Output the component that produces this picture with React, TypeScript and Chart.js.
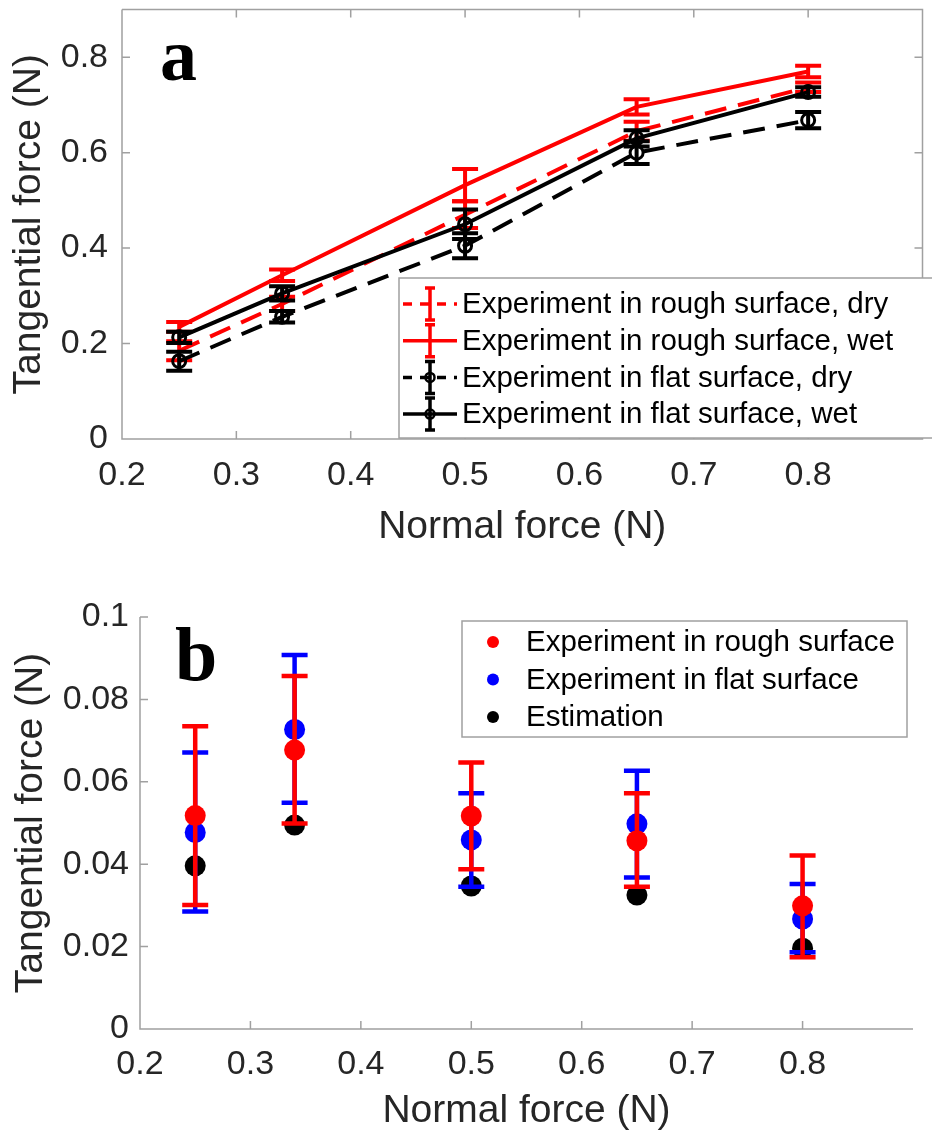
import React, { useEffect, useRef } from "react";
import { Chart, registerables } from "chart.js";

Chart.register(...registerables);

// ---------- data ----------
const normalForce = [0.25, 0.34, 0.5, 0.65, 0.8];
const xTickValues = [0.2, 0.3, 0.4, 0.5, 0.6, 0.7, 0.8];
const yTickValuesA = [0, 0.2, 0.4, 0.6, 0.8];
const yTickValuesB = [0, 0.02, 0.04, 0.06, 0.08, 0.1];

// panel a
const roughDry = [0.185, 0.283, 0.47, 0.645, 0.737];
const roughDryErr = [0.02, 0.015, 0.028, 0.02, 0.01];
const roughWet = [0.235, 0.343, 0.532, 0.696, 0.77];
const roughWetErr = [0.01, 0.012, 0.034, 0.016, 0.012];
const flatDry = [0.163, 0.256, 0.405, 0.6, 0.668];
const flatDryErr = [0.02, 0.012, 0.026, 0.024, 0.017];
const flatWet = [0.213, 0.305, 0.45, 0.63, 0.727];
const flatWetErr = [0.012, 0.015, 0.031, 0.017, 0.01];

// panel b
const roughB = [0.0518, 0.0677, 0.0517, 0.0457, 0.0299];
const roughBLow = [0.0301, 0.0499, 0.0388, 0.0345, 0.0174];
const roughBHigh = [0.0735, 0.0857, 0.0647, 0.0572, 0.0421];
const flatB = [0.0477, 0.0727, 0.0459, 0.0498, 0.0267];
const flatBLow = [0.0285, 0.0549, 0.0345, 0.0368, 0.0186];
const flatBHigh = [0.0671, 0.0908, 0.0572, 0.0627, 0.0352];
const estimation = [0.0396, 0.0495, 0.0347, 0.0325, 0.0196];

const labelsA = [
  "Experiment in rough surface, dry",
  "Experiment in rough surface, wet",
  "Experiment in flat surface, dry",
  "Experiment in flat surface, wet",
];
const labelsB = ["Experiment in rough surface", "Experiment in flat surface", "Estimation"];

// ---------- styling ----------
const SANS = "'Liberation Sans', Arial, sans-serif";
const SERIF = "'Liberation Serif', 'Times New Roman', serif";
const AXIS_GRAY = "#a0a0a0";
const TEXT_GRAY = "#262626";
const RED = "#ff0000";
const BLUE = "#0000ff";
const BLACK = "#000000";

const pts = (ys: number[]) => normalForce.map((x, i) => ({ x, y: ys[i] }));
const fmt = (v: number) => String(Number(Number(v).toFixed(3)));

// ---------- plugins ----------
const errorBarPlugin = {
  id: "errorBars",
  afterDatasetDraw(chart: any, args: any) {
    const ds: any = chart.data.datasets[args.index];
    if (!ds.errLow) return;
    const { ctx } = chart;
    const x = chart.scales.x;
    const y = chart.scales.y;
    ctx.save();
    ctx.strokeStyle = ds.errColor;
    ctx.lineWidth = ds.errWidth;
    ctx.setLineDash([]);
    ctx.lineCap = "butt";
    ds.data.forEach((p: any, i: number) => {
      const px = x.getPixelForValue(p.x);
      const y1 = y.getPixelForValue(ds.errLow[i]);
      const y2 = y.getPixelForValue(ds.errHigh[i]);
      const hw = ds.capWidth / 2;
      ctx.beginPath();
      ctx.moveTo(px, y1);
      ctx.lineTo(px, y2);
      ctx.moveTo(px - hw, y1);
      ctx.lineTo(px + hw, y1);
      ctx.moveTo(px - hw, y2);
      ctx.lineTo(px + hw, y2);
      ctx.stroke();
    });
    ctx.restore();
  },
};

const axesPlugin = {
  id: "matlabAxes",
  afterDatasetsDraw(chart: any, _args: any, opts: any) {
    const { ctx, chartArea: a } = chart;
    const x = chart.scales.x;
    const y = chart.scales.y;
    const L = 8;
    ctx.save();
    ctx.strokeStyle = AXIS_GRAY;
    ctx.lineWidth = 1.5;
    ctx.setLineDash([]);
    ctx.beginPath();
    ctx.moveTo(a.left, a.top);
    ctx.lineTo(a.left, a.bottom);
    ctx.lineTo(a.right, a.bottom);
    if (opts.box) {
      ctx.lineTo(a.right, a.top);
      ctx.lineTo(a.left, a.top);
    }
    x.ticks.forEach((t: any) => {
      const px = x.getPixelForValue(t.value);
      if (px <= a.left + 1 || px >= a.right - 1) return;
      ctx.moveTo(px, a.bottom);
      ctx.lineTo(px, a.bottom - L);
      if (opts.box) {
        ctx.moveTo(px, a.top);
        ctx.lineTo(px, a.top + L);
      }
    });
    y.ticks.forEach((t: any) => {
      const py = y.getPixelForValue(t.value);
      if (py >= a.bottom - 1) return;
      ctx.moveTo(a.left, py);
      ctx.lineTo(a.left + L, py);
      if (opts.box) {
        ctx.moveTo(a.right, py);
        ctx.lineTo(a.right - L, py);
      }
    });
    ctx.stroke();
    ctx.restore();
  },
};

const overlayPlugin = {
  id: "overlay",
  afterDraw(chart: any, _args: any, opts: any) {
    const { ctx } = chart;
    const datasets = chart.data.datasets;
    ctx.save();
    // panel letter
    ctx.fillStyle = BLACK;
    ctx.font = `bold ${opts.letterSize}px ${SERIF}`;
    ctx.textBaseline = "alphabetic";
    ctx.textAlign = "left";
    ctx.fillText(opts.letter, opts.letterX, opts.letterY);

    // legend box
    const lg = opts.legend;
    ctx.fillStyle = "#ffffff";
    ctx.fillRect(lg.x, lg.y, lg.w, lg.h);
    ctx.strokeStyle = AXIS_GRAY;
    ctx.lineWidth = 1.5;
    ctx.strokeRect(lg.x, lg.y, lg.w, lg.h);

    lg.order.forEach((dsIndex: number, row: number) => {
      const ds: any = datasets[dsIndex];
      const cy = lg.rowY + row * lg.rowStep;
      const color = ds.borderColor;
      if (lg.kind === "errorline") {
        ctx.strokeStyle = color;
        ctx.lineWidth = 3.5;
        ctx.setLineDash(ds.borderDash && ds.borderDash.length ? [9, 8] : []);
        ctx.beginPath();
        ctx.moveTo(lg.symX - 27, cy);
        ctx.lineTo(lg.symX + 27, cy);
        ctx.stroke();
        ctx.setLineDash([]);
        ctx.beginPath();
        ctx.moveTo(lg.symX, cy - 16);
        ctx.lineTo(lg.symX, cy + 16);
        ctx.moveTo(lg.symX - 5, cy - 16);
        ctx.lineTo(lg.symX + 5, cy - 16);
        ctx.moveTo(lg.symX - 5, cy + 16);
        ctx.lineTo(lg.symX + 5, cy + 16);
        ctx.stroke();
        if (ds.pointRadius > 0) {
          ctx.lineWidth = 2.5;
          ctx.beginPath();
          ctx.arc(lg.symX, cy, 4.5, 0, Math.PI * 2);
          ctx.stroke();
        }
      } else {
        ctx.fillStyle = ds.pointBackgroundColor;
        ctx.beginPath();
        ctx.arc(lg.symX, cy, 6, 0, Math.PI * 2);
        ctx.fill();
      }
      ctx.fillStyle = BLACK;
      ctx.font = `${lg.fontSize}px ${SANS}`;
      ctx.textBaseline = "middle";
      ctx.textAlign = "left";
      ctx.fillText(ds.label, lg.textX, cy + 1);
    });
    ctx.restore();
  },
};

// ---------- shared scale builders ----------
function xScale(height: number, tickPad: number, titlePad: number) {
  return {
    type: "linear",
    min: 0.2,
    max: 0.9,
    afterBuildTicks: (s: any) => {
      s.ticks = xTickValues.map((v) => ({ value: v }));
    },
    afterFit: (s: any) => {
      s.height = height;
      s.paddingLeft = 0;
      s.paddingRight = 0;
      s.paddingTop = 0;
      s.paddingBottom = 0;
    },
    grid: { display: false, drawTicks: false },
    border: { display: false },
    ticks: {
      font: { family: SANS, size: 34 },
      color: TEXT_GRAY,
      padding: tickPad,
      maxRotation: 0,
      autoSkip: false,
      callback: (v: any) => fmt(v),
    },
    title: {
      display: true,
      text: "Normal force (N)",
      color: TEXT_GRAY,
      font: { family: SANS, size: 39, lineHeight: 1.1 },
      padding: { top: 0, bottom: titlePad },
    },
  };
}

function yScale(max: number, tickVals: number[], width: number, tickPad: number, titlePad: number) {
  return {
    type: "linear",
    min: 0,
    max,
    afterBuildTicks: (s: any) => {
      s.ticks = tickVals.map((v) => ({ value: v }));
    },
    afterFit: (s: any) => {
      s.width = width;
      s.paddingLeft = 0;
      s.paddingRight = 0;
      s.paddingTop = 0;
      s.paddingBottom = 0;
    },
    grid: { display: false, drawTicks: false },
    border: { display: false },
    ticks: {
      font: { family: SANS, size: 34 },
      color: TEXT_GRAY,
      padding: tickPad,
      autoSkip: false,
      callback: (v: any) => fmt(v),
    },
    title: {
      display: true,
      text: "Tangential force (N)",
      color: TEXT_GRAY,
      font: { family: SANS, size: 39, lineHeight: 1.1 },
      padding: { top: titlePad, bottom: 0 },
    },
  };
}

function lineSeries(label: string, ys: number[], err: number[], color: string, dashed: boolean, marker: boolean, order: number) {
  return {
    label,
    data: pts(ys),
    showLine: true,
    borderColor: color,
    backgroundColor: color,
    borderWidth: 4,
    borderDash: dashed ? [22, 12] : [],
    pointRadius: marker ? 6.5 : 0,
    pointBorderWidth: 3,
    pointBorderColor: color,
    pointBackgroundColor: "rgba(0,0,0,0)",
    tension: 0,
    fill: false,
    order,
    errLow: ys.map((v, i) => v - err[i]),
    errHigh: ys.map((v, i) => v + err[i]),
    errColor: color,
    errWidth: 4,
    capWidth: 26,
  };
}

function dotSeries(label: string, ys: number[], lo: number[] | null, hi: number[] | null, color: string, order: number) {
  const d: any = {
    label,
    data: pts(ys),
    showLine: false,
    borderColor: color,
    backgroundColor: color,
    pointRadius: 10.5,
    pointBorderWidth: 0,
    pointBackgroundColor: color,
    order,
  };
  if (lo && hi) {
    d.errLow = lo;
    d.errHigh = hi;
    d.errColor = color;
    d.errWidth = 4.5;
    d.capWidth = 26;
  }
  return d;
}

function ChartA() {
  const ref = useRef<HTMLCanvasElement | null>(null);
  useEffect(() => {
    if (!ref.current) return;
    const chart = new Chart(ref.current, {
      type: "scatter",
      data: {
        datasets: [
          lineSeries(labelsA[0], roughDry, roughDryErr, RED, true, false, 4),
          lineSeries(labelsA[1], roughWet, roughWetErr, RED, false, false, 3),
          lineSeries(labelsA[2], flatDry, flatDryErr, BLACK, true, true, 2),
          lineSeries(labelsA[3], flatWet, flatWetErr, BLACK, false, true, 1),
        ] as any,
      },
      options: {
        responsive: false,
        animation: false,
        devicePixelRatio: 1,
        layout: { padding: { top: 7, right: 1, bottom: 0, left: 0 } },
        scales: {
          x: xScale(121, 16, 11) as any,
          y: yScale(0.9, yTickValuesA, 122, 14, 8) as any,
        },
        plugins: {
          legend: { display: false },
          tooltip: { enabled: false },
          matlabAxes: { box: true },
          overlay: {
            letter: "a",
            letterSize: 74,
            letterX: 160,
            letterY: 80,
            legend: {
              kind: "errorline",
              x: 399,
              y: 278,
              w: 600,
              h: 160,
              order: [0, 1, 2, 3],
              rowY: 304,
              rowStep: 36.7,
              symX: 430,
              textX: 462,
              fontSize: 29.5,
            },
          },
        } as any,
      },
      plugins: [errorBarPlugin, axesPlugin, overlayPlugin] as any,
    });
    return () => chart.destroy();
  }, []);
  return <canvas ref={ref} width={932} height={560} style={{ display: "block", width: 932, height: 560 }} />;
}

function ChartB() {
  const ref = useRef<HTMLCanvasElement | null>(null);
  useEffect(() => {
    if (!ref.current) return;
    const chart = new Chart(ref.current, {
      type: "scatter",
      data: {
        datasets: [
          dotSeries(labelsB[0], roughB, roughBLow, roughBHigh, RED, 1),
          dotSeries(labelsB[1], flatB, flatBLow, flatBHigh, BLUE, 2),
          dotSeries(labelsB[2], estimation, null, null, BLACK, 3),
        ] as any,
      },
      options: {
        responsive: false,
        animation: false,
        devicePixelRatio: 1,
        layout: { padding: { top: 57, right: 19, bottom: 0, left: 0 } },
        scales: {
          x: xScale(104, 15, 0) as any,
          y: yScale(0.1, yTickValuesB, 140, 11, 10) as any,
        },
        plugins: {
          legend: { display: false },
          tooltip: { enabled: false },
          matlabAxes: { box: false },
          overlay: {
            letter: "b",
            letterSize: 76,
            letterX: 175,
            letterY: 120,
            legend: {
              kind: "dot",
              x: 462,
              y: 61,
              w: 445,
              h: 116,
              order: [0, 1, 2],
              rowY: 82,
              rowStep: 37.5,
              symX: 493,
              textX: 526,
              fontSize: 29.5,
            },
          },
        } as any,
      },
      plugins: [errorBarPlugin, axesPlugin, overlayPlugin] as any,
    });
    return () => chart.destroy();
  }, []);
  return <canvas ref={ref} width={932} height={573} style={{ display: "block", width: 932, height: 573 }} />;
}

export default function App() {
  return (
    <div style={{ position: "absolute", left: 0, top: 0, width: 932, height: 1133, background: "#ffffff", overflow: "hidden" }}>
      <ChartA />
      <ChartB />
    </div>
  );
}
